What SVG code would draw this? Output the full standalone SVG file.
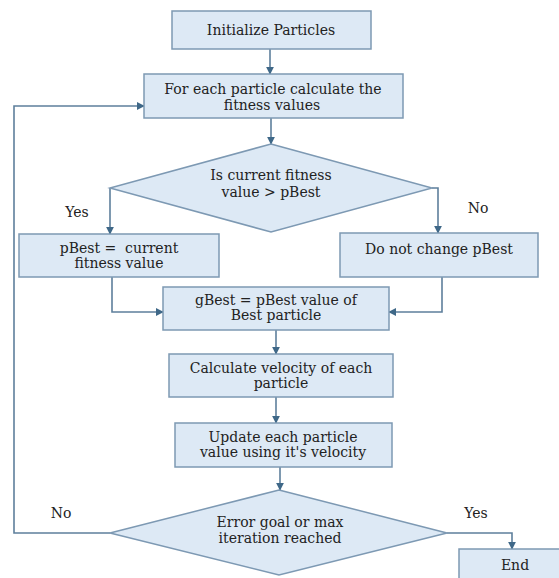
<svg xmlns="http://www.w3.org/2000/svg" width="559" height="578" viewBox="0 0 559 578">
  <defs>
    <marker id="arr" viewBox="0 0 10 10" refX="9" refY="5" markerWidth="8" markerHeight="8" markerUnits="userSpaceOnUse" orient="auto">
      <path d="M0,0 L10,5 L0,10 z" fill="#3f6888"/>
    </marker>
    <style>
      .box { fill: #dde9f5; stroke: #7d99b3; stroke-width: 1.5; }
      .lbl { font-family: "DejaVu Serif", "Liberation Serif", serif; font-size: 14px; fill: #222222; text-anchor: middle; white-space: pre; }
      .edge { fill: none; stroke: #5e7f9c; stroke-width: 1.6; }
      .edge.a { marker-end: url(#arr); }
    </style>
  </defs>
  <rect width="559" height="578" fill="#ffffff"/>

  <g id="connectors">
    <path class="edge a" d="M270,49 V74"/>
    <path class="edge a" d="M271,118 V144"/>
    <path class="edge a" d="M110,188 V234"/>
    <path class="edge a" d="M432,188 H438 V233"/>
    <path class="edge a" d="M112,277 V312 H163"/>
    <path class="edge a" d="M442,277 V312 H389"/>
    <path class="edge a" d="M276,330 V354"/>
    <path class="edge a" d="M276,397 V423"/>
    <path class="edge a" d="M280,467 V490"/>
    <path class="edge a" d="M110,533 H14 V106 H144"/>
    <path class="edge a" d="M447,533 H512 V549"/>
    <text class="lbl" x="77" y="217">Yes</text>
    <text class="lbl" x="478" y="213">No</text>
    <text class="lbl" x="61" y="518">No</text>
    <text class="lbl" x="476" y="518">Yes</text>
  </g>

  <g id="init">
    <rect class="box" x="172" y="11" width="199" height="38"/>
    <text class="lbl" x="271" y="35">Initialize Particles</text>
  </g>

  <g id="fitness">
    <rect class="box" x="144" y="74" width="259" height="44"/>
    <text class="lbl" x="273" y="94">For each particle calculate the</text>
    <text class="lbl" x="272" y="110">fitness values</text>
  </g>

  <g id="decision1">
    <polygon class="box" points="271,144 432,188 271,232 110,188"/>
    <text class="lbl" x="271" y="180">Is current fitness</text>
    <text class="lbl" x="271" y="197">value &gt; pBest</text>
  </g>

  <g id="pbest-update">
    <rect class="box" x="19" y="234" width="200" height="43"/>
    <text class="lbl" x="119" y="253">pBest =  current</text>
    <text class="lbl" x="119" y="268">fitness value</text>
  </g>

  <g id="pbest-keep">
    <rect class="box" x="340" y="233" width="198" height="44"/>
    <text class="lbl" x="439" y="254">Do not change pBest</text>
  </g>

  <g id="gbest">
    <rect class="box" x="163" y="287" width="226" height="43"/>
    <text class="lbl" x="276" y="305">gBest = pBest value of</text>
    <text class="lbl" x="276" y="320">Best particle</text>
  </g>

  <g id="velocity">
    <rect class="box" x="169" y="354" width="224" height="43"/>
    <text class="lbl" x="281" y="373">Calculate velocity of each</text>
    <text class="lbl" x="281" y="388">particle</text>
  </g>

  <g id="update">
    <rect class="box" x="175" y="423" width="217" height="44"/>
    <text class="lbl" x="283" y="442">Update each particle</text>
    <text class="lbl" x="283" y="457">value using it's velocity</text>
  </g>

  <g id="decision2">
    <polygon class="box" points="279,490 447,533 279,575 110,533"/>
    <text class="lbl" x="280" y="527">Error goal or max</text>
    <text class="lbl" x="280" y="543">iteration reached</text>
  </g>

  <g id="end">
    <rect class="box" x="459" y="549" width="112" height="40"/>
    <text class="lbl" x="515" y="570">End</text>
  </g>
</svg>
